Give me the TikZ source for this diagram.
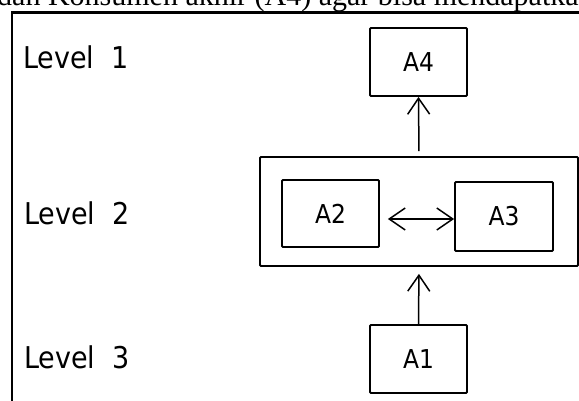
\documentclass[tikz,border=0pt]{standalone}
\usepackage{fontspec}
\setmainfont{Liberation Serif}
\newfontfamily\lvlfont[FakeStretch=0.9]{DejaVu Sans}
\usetikzlibrary{arrows.meta}
\tikzset{
  abox/.style={draw, line width=1.8pt, rounded corners=1pt, minimum width=97pt, minimum height=68pt, inner sep=0pt,
    font=\lvlfont\fontsize{26}{28}\selectfont},
  bigbox/.style={draw, line width=1.8pt, rounded corners=1pt, minimum width=318pt, minimum height=109pt, inner sep=0pt},
  lvl/.style={anchor=base west, inner sep=0pt, font=\lvlfont\fontsize{30}{32}\selectfont},
  arr/.style={line width=1.5pt, -{Straight Barb[length=16pt,width=22pt]}},
  darr/.style={line width=1.5pt, {Straight Barb[length=16pt,width=22pt]}-{Straight Barb[length=16pt,width=22pt]}}
}
\begin{document}
\begin{tikzpicture}[x=1pt,y=-1pt]
\useasboundingbox (0,0) rectangle (579,401);
\fill[white] (0,0) rectangle (579,401);
% cut-off line of text above the figure
\begin{scope}
\clip (0,-20) rectangle (579,10.5);
\node[anchor=base west, inner sep=0pt, font=\fontsize{30}{31}\selectfont] (toptext) at (-3,6) {dan Konsumen akhir (A4) agar bisa mendapatkan};
\end{scope}
% frame
\draw[line width=2.5pt] (12,401) -- (12,12.5) -- (579,12.5);
% level labels
\node[lvl] (l1) at (23,69) {Level\ \ 1};
\node[lvl] (l2) at (24,225) {Level\ \ 2};
\node[lvl] (l3) at (24,368) {Level\ \ 3};
% boxes
\node[bigbox] (big) at (419,211.5) {};
\node[abox] (A4) at (418.5,62) {A4};
\node[abox, minimum height=67pt] (A2) at (330.5,213.5) {A2};
\node[abox, minimum width=98pt, minimum height=69pt] (A3) at (504,216.5) {A3};
\node[abox] (A1) at (418.5,359) {A1};
% connectors
\draw[arr, shorten <=5pt] (big.north) -- (A4.south);
\draw[arr, shorten >=7pt] (A1.north) -- (big.south);
\draw[darr, shorten <=8pt] ([yshift=-5.5pt]A2.east) -- ([yshift=-2.5pt]A3.west);
\end{tikzpicture}
\end{document}
